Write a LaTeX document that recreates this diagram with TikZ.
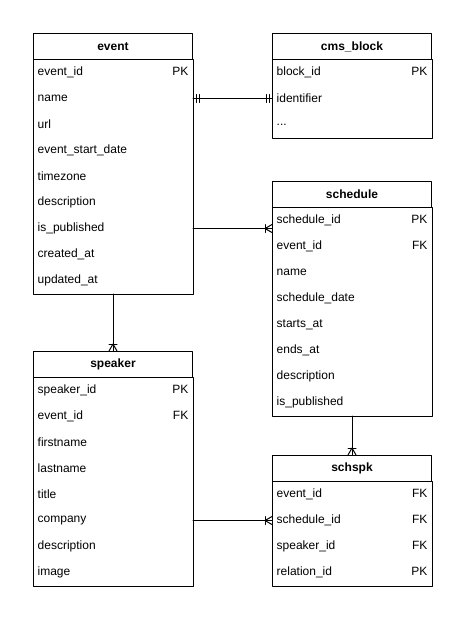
\documentclass[tikz,border=0pt]{standalone}
\usepackage{fontspec}
\setmainfont{Liberation Sans}
\usetikzlibrary{positioning}

\newcommand{\etcdots}{...}
\tikzset{
  tblhead/.style={draw,anchor=north west,minimum width=119.25pt,minimum height=19.5pt,inner sep=0pt,font=\fontsize{9}{11}\selectfont\bfseries},
  tblrow/.style={anchor=north west,minimum height=19.5pt,text width=113pt,inner xsep=3.125pt,inner ysep=0pt,align=left},
}

\begin{document}
\begin{tikzpicture}[line cap=round,line join=round,x=0.75pt,y=-0.75pt,line width=0.75pt,font=\fontsize{9}{11}\selectfont]
\useasboundingbox (0,0) rectangle (470,625);
% tables
\node[tblhead] (event) at (33,33) {event};
\foreach \t [count=\i] in {event\_id\hfill PK,name,url,event\_start\_date,timezone,description,is\_published,created\_at,updated\_at}
\node[tblrow] (event-r\i) at (33,{59+26*(\i-1)}) {\t};
\draw (event-r1.north west) rectangle (event-r9.south east);

\node[tblhead] (cms) at (272,33) {cms\_block};
\foreach \t [count=\i] in {block\_id\hfill PK,identifier,\etcdots}
\node[tblrow] (cms-r\i) at (272,{59+26*(\i-1)}) {\t};
\draw (cms-r1.north west) rectangle (cms-r3.south east);

\node[tblhead] (schedule) at (272,181) {schedule};
\foreach \t [count=\i] in {schedule\_id\hfill PK,event\_id\hfill FK,name,schedule\_date,starts\_at,ends\_at,description,is\_published}
\node[tblrow] (schedule-r\i) at (272,{207+26*(\i-1)}) {\t};
\draw (schedule-r1.north west) rectangle (schedule-r8.south east);

\node[tblhead] (speaker) at (33,351) {speaker};
\foreach \t [count=\i] in {speaker\_id\hfill PK,event\_id\hfill FK,firstname,lastname,title,company,description,image}
\node[tblrow] (speaker-r\i) at (33,{377+26*(\i-1)}) {\t};
\draw (speaker-r1.north west) rectangle (speaker-r8.south east);

\node[tblhead] (schspk) at (272,455) {schspk};
\foreach \t [count=\i] in {event\_id\hfill FK,schedule\_id\hfill FK,speaker\_id\hfill FK,relation\_id\hfill PK}
\node[tblrow] (schspk-r\i) at (272,{481+26*(\i-1)}) {\t};
\draw (schspk-r1.north west) rectangle (schspk-r4.south east);

% event -- cms_block (one to one)
\draw (event-r2.east) -- (cms-r2.west);
\draw (event-r2.east) ++(3,-4) -- ++(0,8) ++(3,0) -- ++(0,-8);
\draw (cms-r2.west) ++(-3,-4) -- ++(0,8) ++(-3,0) -- ++(0,-8);

% event -- schedule (one to many)
\coordinate (sd-in) at (event-r7.east -| schedule.west);
\draw (event-r7.east) -- (sd-in);
\draw (sd-in) ++(0,-4) -- ++(-7,4) -- ++(7,4);
\draw (sd-in) ++(-7,-4) -- ++(0,8);

% event -- speaker (one to many)
\draw (event-r9.south) -- (speaker.north);
\draw (speaker.north) ++(-4,0) -- ++(4,-7) -- ++(4,7);
\draw (speaker.north) ++(-4,-7) -- ++(8,0);

% schedule -- schspk (one to many)
\draw (schedule-r8.south) -- (schspk.north);
\draw (schspk.north) ++(-4,0) -- ++(4,-7) -- ++(4,7);
\draw (schspk.north) ++(-4,-7) -- ++(8,0);

% speaker -- schspk (one to many)
\draw (speaker-r6.east) -- (schspk-r2.west);
\draw (schspk-r2.west) ++(0,-4) -- ++(-7,4) -- ++(7,4);
\draw (schspk-r2.west) ++(-7,-4) -- ++(0,8);
\end{tikzpicture}
\end{document}
